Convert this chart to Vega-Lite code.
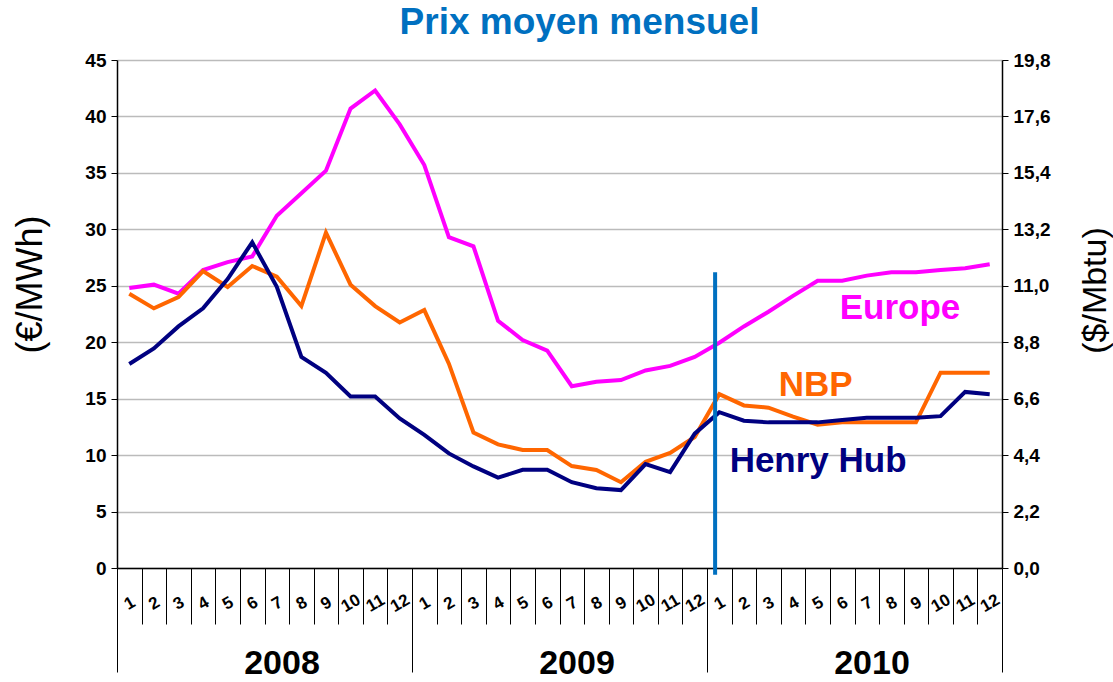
{
  "$schema": "https://vega.github.io/schema/vega-lite/v6.json",
  "width": 885,
  "height": 508,
  "autosize": {"type": "none"},
  "padding": {"left": 117, "top": 60, "right": 111, "bottom": 114},
  "config": {"font": "Liberation Sans", "view": {"stroke": null}},
  "title": {"text": "Prix moyen mensuel", "color": "#0070C0", "fontSize": 37, "fontWeight": "bold", "anchor": "middle", "frame": "group", "dx": 20, "dy": -5},
  "layer": [
    {
      "data": {"values": [
        {"series": "Europe", "m": 1, "value": 24.8}, {"series": "Europe", "m": 2, "value": 25.1}, {"series": "Europe", "m": 3, "value": 24.3}, {"series": "Europe", "m": 4, "value": 26.4}, {"series": "Europe", "m": 5, "value": 27.1}, {"series": "Europe", "m": 6, "value": 27.6}, {"series": "Europe", "m": 7, "value": 31.2}, {"series": "Europe", "m": 8, "value": 33.2}, {"series": "Europe", "m": 9, "value": 35.2}, {"series": "Europe", "m": 10, "value": 40.7}, {"series": "Europe", "m": 11, "value": 42.3}, {"series": "Europe", "m": 12, "value": 39.3},
        {"series": "Europe", "m": 13, "value": 35.7}, {"series": "Europe", "m": 14, "value": 29.3}, {"series": "Europe", "m": 15, "value": 28.5}, {"series": "Europe", "m": 16, "value": 21.9}, {"series": "Europe", "m": 17, "value": 20.2}, {"series": "Europe", "m": 18, "value": 19.25}, {"series": "Europe", "m": 19, "value": 16.1}, {"series": "Europe", "m": 20, "value": 16.5}, {"series": "Europe", "m": 21, "value": 16.65}, {"series": "Europe", "m": 22, "value": 17.5}, {"series": "Europe", "m": 23, "value": 17.9}, {"series": "Europe", "m": 24, "value": 18.7},
        {"series": "Europe", "m": 25, "value": 19.95}, {"series": "Europe", "m": 26, "value": 21.4}, {"series": "Europe", "m": 27, "value": 22.7}, {"series": "Europe", "m": 28, "value": 24.1}, {"series": "Europe", "m": 29, "value": 25.45}, {"series": "Europe", "m": 30, "value": 25.45}, {"series": "Europe", "m": 31, "value": 25.9}, {"series": "Europe", "m": 32, "value": 26.2}, {"series": "Europe", "m": 33, "value": 26.2}, {"series": "Europe", "m": 34, "value": 26.4}, {"series": "Europe", "m": 35, "value": 26.55}, {"series": "Europe", "m": 36, "value": 26.9},
        {"series": "NBP", "m": 1, "value": 24.3}, {"series": "NBP", "m": 2, "value": 23.0}, {"series": "NBP", "m": 3, "value": 24.0}, {"series": "NBP", "m": 4, "value": 26.3}, {"series": "NBP", "m": 5, "value": 24.9}, {"series": "NBP", "m": 6, "value": 26.75}, {"series": "NBP", "m": 7, "value": 25.8}, {"series": "NBP", "m": 8, "value": 23.2}, {"series": "NBP", "m": 9, "value": 29.7}, {"series": "NBP", "m": 10, "value": 25.1}, {"series": "NBP", "m": 11, "value": 23.2}, {"series": "NBP", "m": 12, "value": 21.75},
        {"series": "NBP", "m": 13, "value": 22.85}, {"series": "NBP", "m": 14, "value": 18.1}, {"series": "NBP", "m": 15, "value": 12.0}, {"series": "NBP", "m": 16, "value": 10.95}, {"series": "NBP", "m": 17, "value": 10.45}, {"series": "NBP", "m": 18, "value": 10.45}, {"series": "NBP", "m": 19, "value": 9.03}, {"series": "NBP", "m": 20, "value": 8.68}, {"series": "NBP", "m": 21, "value": 7.6}, {"series": "NBP", "m": 22, "value": 9.4}, {"series": "NBP", "m": 23, "value": 10.2}, {"series": "NBP", "m": 24, "value": 11.6},
        {"series": "NBP", "m": 25, "value": 15.4}, {"series": "NBP", "m": 26, "value": 14.4}, {"series": "NBP", "m": 27, "value": 14.2}, {"series": "NBP", "m": 28, "value": 13.4}, {"series": "NBP", "m": 29, "value": 12.7}, {"series": "NBP", "m": 30, "value": 12.9}, {"series": "NBP", "m": 31, "value": 12.9}, {"series": "NBP", "m": 32, "value": 12.9}, {"series": "NBP", "m": 33, "value": 12.9}, {"series": "NBP", "m": 34, "value": 17.3}, {"series": "NBP", "m": 35, "value": 17.3}, {"series": "NBP", "m": 36, "value": 17.3},
        {"series": "Henry Hub", "m": 1, "value": 18.07}, {"series": "Henry Hub", "m": 2, "value": 19.45}, {"series": "Henry Hub", "m": 3, "value": 21.4}, {"series": "Henry Hub", "m": 4, "value": 23.0}, {"series": "Henry Hub", "m": 5, "value": 25.6}, {"series": "Henry Hub", "m": 6, "value": 28.85}, {"series": "Henry Hub", "m": 7, "value": 24.9}, {"series": "Henry Hub", "m": 8, "value": 18.7}, {"series": "Henry Hub", "m": 9, "value": 17.3}, {"series": "Henry Hub", "m": 10, "value": 15.2}, {"series": "Henry Hub", "m": 11, "value": 15.2}, {"series": "Henry Hub", "m": 12, "value": 13.25},
        {"series": "Henry Hub", "m": 13, "value": 11.8}, {"series": "Henry Hub", "m": 14, "value": 10.15}, {"series": "Henry Hub", "m": 15, "value": 9.0}, {"series": "Henry Hub", "m": 16, "value": 8.0}, {"series": "Henry Hub", "m": 17, "value": 8.7}, {"series": "Henry Hub", "m": 18, "value": 8.7}, {"series": "Henry Hub", "m": 19, "value": 7.6}, {"series": "Henry Hub", "m": 20, "value": 7.06}, {"series": "Henry Hub", "m": 21, "value": 6.9}, {"series": "Henry Hub", "m": 22, "value": 9.2}, {"series": "Henry Hub", "m": 23, "value": 8.5}, {"series": "Henry Hub", "m": 24, "value": 11.9},
        {"series": "Henry Hub", "m": 25, "value": 13.8}, {"series": "Henry Hub", "m": 26, "value": 13.05}, {"series": "Henry Hub", "m": 27, "value": 12.9}, {"series": "Henry Hub", "m": 28, "value": 12.9}, {"series": "Henry Hub", "m": 29, "value": 12.9}, {"series": "Henry Hub", "m": 30, "value": 13.1}, {"series": "Henry Hub", "m": 31, "value": 13.3}, {"series": "Henry Hub", "m": 32, "value": 13.3}, {"series": "Henry Hub", "m": 33, "value": 13.3}, {"series": "Henry Hub", "m": 34, "value": 13.45}, {"series": "Henry Hub", "m": 35, "value": 15.6}, {"series": "Henry Hub", "m": 36, "value": 15.4}
      ]},
      "mark": {"type": "line", "strokeWidth": 4},
      "encoding": {
        "x": {"field": "m", "type": "quantitative", "scale": {"domain": [0.5, 36.5], "nice": false, "zero": false},
          "axis": {"orient": "bottom", "values": [0.5,1.5,2.5,3.5,4.5,5.5,6.5,7.5,8.5,9.5,10.5,11.5,12.5,13.5,14.5,15.5,16.5,17.5,18.5,19.5,20.5,21.5,22.5,23.5,24.5,25.5,26.5,27.5,28.5,29.5,30.5,31.5,32.5,33.5,34.5,35.5,36.5],
            "labels": false, "grid": false, "title": null, "domainColor": "black", "domainWidth": 1.5, "tickColor": "black", "tickWidth": 1,
            "tickSize": {"condition": {"test": "datum.value % 12 === 0.5", "value": 104}, "value": 56}}},
        "y": {"field": "value", "type": "quantitative", "scale": {"domain": [0, 45], "nice": false},
          "axis": {"orient": "left", "values": [0,5,10,15,20,25,30,35,40,45], "grid": true, "gridColor": "#BBBBBB", "gridWidth": 1.5, "tickSize": 6, "tickColor": "black", "domainColor": "black", "domainWidth": 1.5, "labelFontSize": 19, "labelFontWeight": "bold", "labelColor": "black", "labelPadding": 5,
            "title": "(€/MWh)", "titleFontSize": 36, "titleFontWeight": "normal", "titleColor": "black", "titleAngle": 270, "titleX": -87, "titleY": 224, "titleAlign": "center", "titleBaseline": "middle"}},
        "color": {"field": "series", "type": "nominal", "scale": {"domain": ["Europe", "NBP", "Henry Hub"], "range": ["#FF00FF", "#FF6600", "#000080"]}, "legend": null}
      }
    },
    {
      "data": {"values": [
        {"label": "Europe", "m": 32.35, "value": 23.0},
        {"label": "NBP", "m": 28.92, "value": 16.2},
        {"label": "Henry Hub", "m": 29.02, "value": 9.5}
      ]},
      "mark": {"type": "text", "fontSize": 35, "fontWeight": "bold", "align": "center", "baseline": "middle"},
      "encoding": {
        "x": {"field": "m", "type": "quantitative",
          "axis": {"orient": "bottom", "values": [1,2,3,4,5,6,7,8,9,10,11,12,13,14,15,16,17,18,19,20,21,22,23,24,25,26,27,28,29,30,31,32,33,34,35,36],
            "labelExpr": "'' + ((datum.value - 1) % 12 + 1)", "ticks": false, "domain": false, "grid": false, "labelAngle": -30, "labelAlign": "center", "labelBaseline": "middle", "labelPadding": 35, "labelFontSize": 17, "labelFontWeight": "bold", "labelColor": "black", "labelFlush": false, "labelOverlap": false, "labelBound": false, "title": null}},
        "y": {"field": "value", "type": "quantitative", "axis": null},
        "text": {"field": "label"},
        "color": {"field": "label", "type": "nominal", "legend": null}
      }
    },
    {
      "data": {"values": [{"m": 24.83, "top": 26.2, "bottom": -0.6}]},
      "mark": {"type": "rule", "color": "#0070C0", "strokeWidth": 4},
      "encoding": {
        "x": {"field": "m", "type": "quantitative",
          "axis": {"orient": "bottom", "values": [6.5, 18.5, 30.5], "labelExpr": "'' + (2008 + floor(datum.value / 12))", "ticks": false, "domain": false, "grid": false, "labelPadding": 78, "labelOffset": 17, "labelFontSize": 34, "labelFontWeight": "bold", "labelColor": "black", "labelFlush": false, "labelOverlap": false, "title": null}},
        "y": {"field": "top", "type": "quantitative",
          "axis": {"orient": "right", "values": [0,5,10,15,20,25,30,35,40,45], "labelExpr": "replace(format(datum.value * 0.44, '.1f'), '.', ',')", "grid": false, "tickSize": 6, "tickColor": "black", "domainColor": "black", "domainWidth": 1.5, "labelFontSize": 19, "labelFontWeight": "bold", "labelColor": "black", "labelPadding": 5,
            "title": "($/Mbtu)", "titleFontSize": 34, "titleFontWeight": "normal", "titleColor": "black", "titleAngle": 270, "titleX": 93, "titleY": 230, "titleAlign": "center", "titleBaseline": "middle"}},
        "y2": {"field": "bottom"}
      }
    }
  ],
  "resolve": {"axis": {"x": "independent", "y": "independent"}}
}
